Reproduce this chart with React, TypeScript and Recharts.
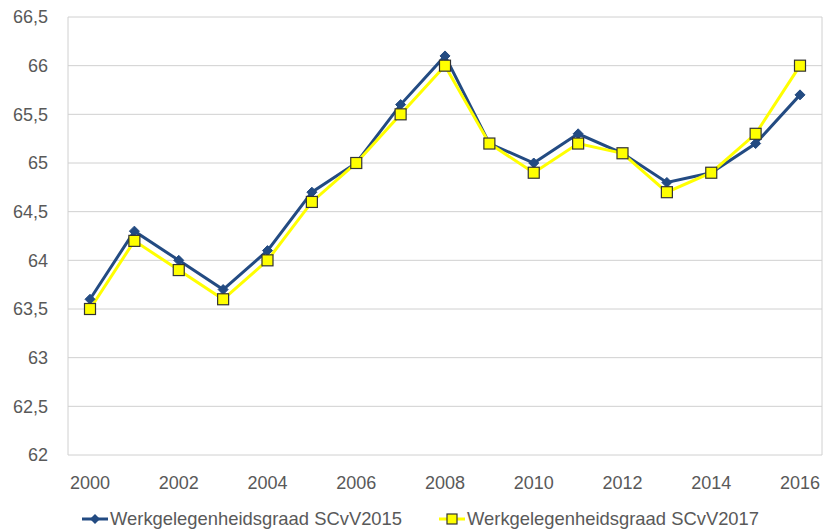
import React from "react";
import { LineChart, Line, XAxis, YAxis, CartesianGrid } from "recharts";

const years = ["2000","2001","2002","2003","2004","2005","2006","2007","2008","2009","2010","2011","2012","2013","2014","2015","2016"];
const scvv2015 = [63.6, 64.3, 64.0, 63.7, 64.1, 64.7, 65.0, 65.6, 66.1, 65.2, 65.0, 65.3, 65.1, 64.8, 64.9, 65.2, 65.7];
const scvv2017 = [63.5, 64.2, 63.9, 63.6, 64.0, 64.6, 65.0, 65.5, 66.0, 65.2, 64.9, 65.2, 65.1, 64.7, 64.9, 65.3, 66.0];
const yTicks = [62, 62.5, 63, 63.5, 64, 64.5, 65, 65.5, 66, 66.5];
const seriesNames = ["Werkgelegenheidsgraad SCvV2015", "Werkgelegenheidsgraad SCvV2017"];

const data = years.map((y, i) => ({ year: y, a: scvv2015[i], b: scvv2017[i] }));

const BLUE = "#234B82";
const YELLOW = "#FFFF00";
const TEXT = "#595959";
const FONT = "'Liberation Sans', Arial, sans-serif";

const Diamond = (props: any) => {
  const { cx, cy } = props;
  if (cx == null || cy == null) return null;
  const r = 5;
  return <path d={`M${cx},${cy - r}L${cx + r},${cy}L${cx},${cy + r}L${cx - r},${cy}Z`} fill={BLUE} stroke={BLUE} strokeWidth={1} />;
};

const Square = (props: any) => {
  const { cx, cy } = props;
  if (cx == null || cy == null) return null;
  const s = 11;
  return <rect x={cx - s / 2} y={cy - s / 2} width={s} height={s} fill={YELLOW} stroke="#333" strokeWidth={1.2} />;
};

export default function App() {
  return (
    <div style={{ position: "absolute", left: 0, top: 0, width: 824, height: 532, background: "#fff", fontFamily: FONT }}>
      <LineChart width={824} height={532} data={data} margin={{ top: 17, right: 2, left: 0, bottom: 77 - 40 }}>
        <CartesianGrid stroke="#D0D0D0" vertical={true} verticalPoints={[68, 822]} />
        <XAxis
          dataKey="year"
          interval={1}
          padding={{ left: 22, right: 22 }}
          axisLine={false}
          tickLine={false}
          tickSize={0}
          tickMargin={21}
          height={40}
          tick={{ fill: TEXT, fontSize: 18, fontFamily: FONT }}
        />
        <YAxis
          domain={[62, 66.5]}
          ticks={yTicks}
          width={68}
          axisLine={false}
          tickLine={false}
          tickSize={0}
          tickMargin={20}
          tickFormatter={(v: number) => String(v).replace(".", ",")}
          tick={{ fill: TEXT, fontSize: 18, fontFamily: FONT }}
        />
        <Line dataKey="a" stroke={BLUE} strokeWidth={3} dot={<Diamond />} activeDot={false} isAnimationActive={false} />
        <Line dataKey="b" stroke={YELLOW} strokeWidth={3} dot={<Square />} activeDot={false} isAnimationActive={false} />
      </LineChart>
      <div style={{ position: "absolute", left: 82, top: 507, height: 24, display: "flex", alignItems: "center", fontSize: 18.4, color: TEXT, whiteSpace: "nowrap" }}>
        <svg width={26} height={14} style={{ marginRight: 2 }}>
          <line x1={0} y1={7} x2={26} y2={7} stroke={BLUE} strokeWidth={3} />
          <path d="M13,2L18,7L13,12L8,7Z" fill={BLUE} />
        </svg>
        <span>{seriesNames[0]}</span>
      </div>
      <div style={{ position: "absolute", left: 439, top: 507, height: 24, display: "flex", alignItems: "center", fontSize: 18.4, color: TEXT, whiteSpace: "nowrap" }}>
        <svg width={26} height={14} style={{ marginRight: 2 }}>
          <line x1={0} y1={7} x2={26} y2={7} stroke={YELLOW} strokeWidth={3} />
          <rect x={8} y={2} width={10} height={10} fill={YELLOW} stroke="#333" strokeWidth={1.2} />
        </svg>
        <span>{seriesNames[1]}</span>
      </div>
    </div>
  );
}
